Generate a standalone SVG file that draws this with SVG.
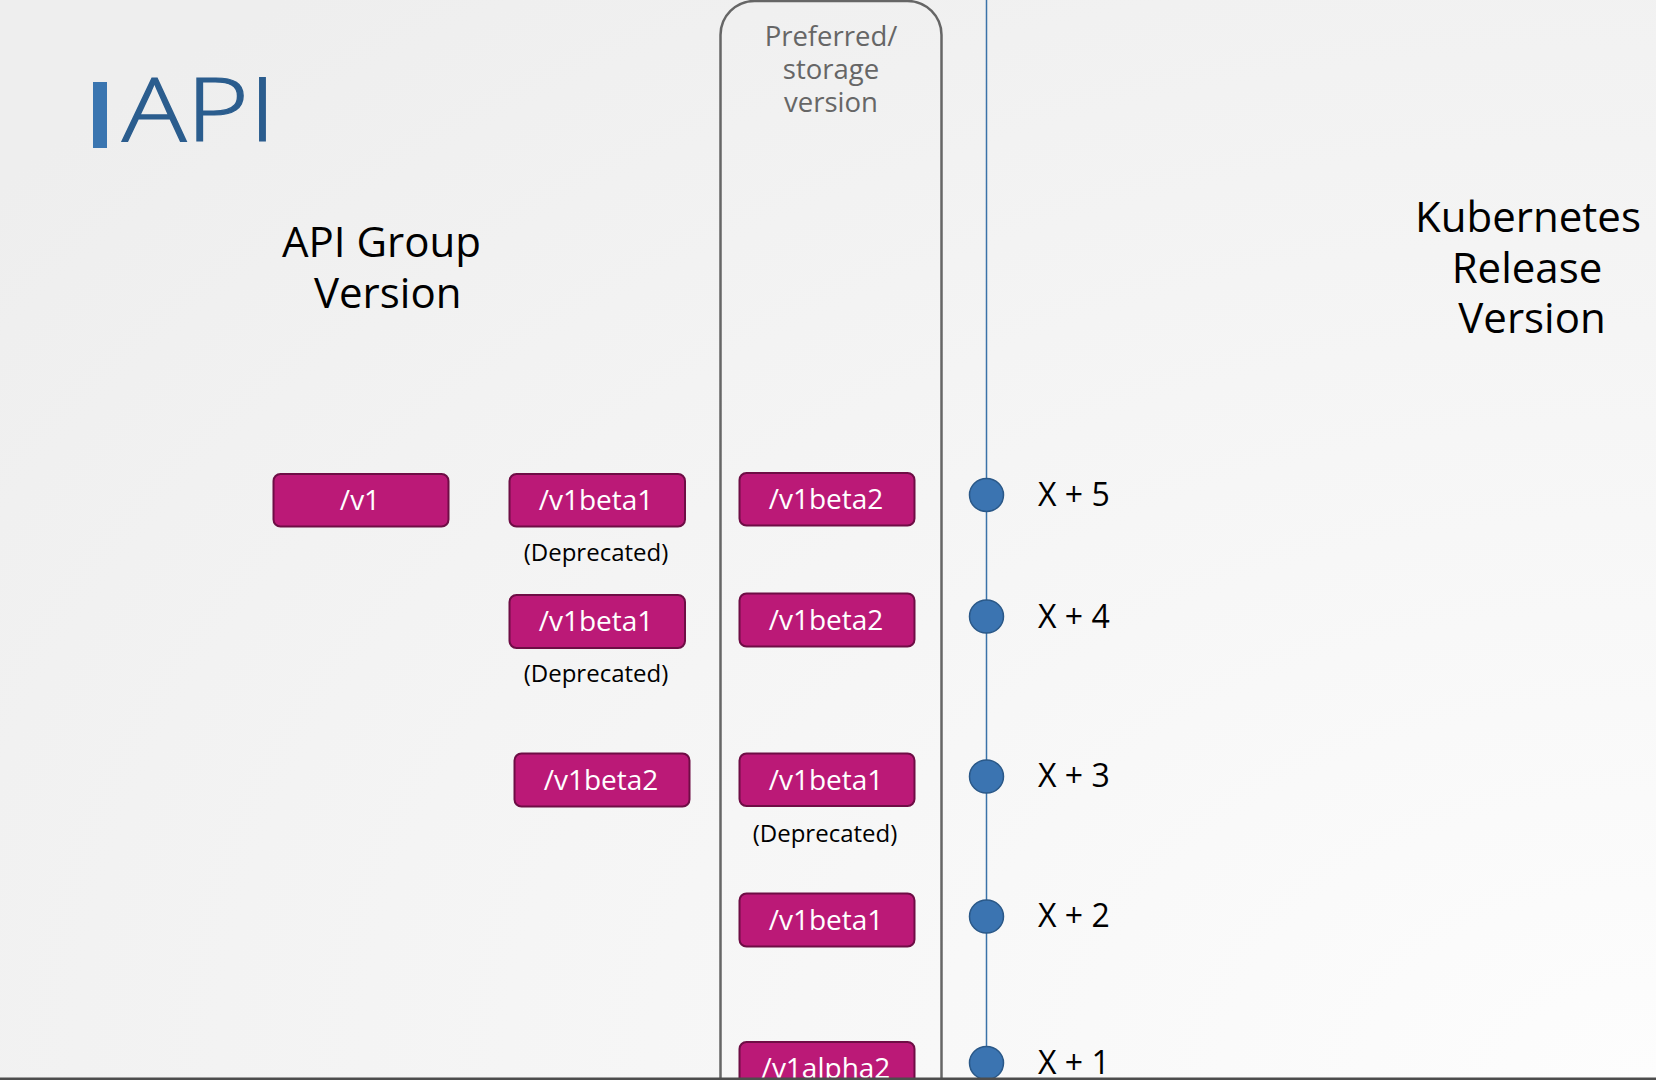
<svg xmlns="http://www.w3.org/2000/svg" width="1656" height="1080" viewBox="0 0 1656 1080">
<defs>
<radialGradient id="bg" cx="1" cy="1" r="1.3">
<stop offset="0" stop-color="#fdfdfd"/>
<stop offset="1" stop-color="#eeeeee"/>
</radialGradient>
<style>
.box{fill:#bb1977;stroke:#6e0d45;stroke-width:2}
.bt{font-family:"Open Sans","Liberation Sans",sans-serif;font-size:28px;fill:#ffffff;text-anchor:middle}
.dep{font-family:"Open Sans","Liberation Sans",sans-serif;font-size:24px;fill:#000;text-anchor:middle}
.head{font-family:"Open Sans","Liberation Sans",sans-serif;font-size:42px;fill:#000}
.lbl{font-family:"Open Sans","Liberation Sans",sans-serif;font-size:32px;fill:#000}
.dot{fill:#3b74b1;stroke:#2a5888;stroke-width:1.5}
</style>
</defs>
<rect x="0" y="0" width="1656" height="1080" fill="url(#bg)"/>

<g id="title">
<rect x="93" y="82" width="14" height="66" fill="#3a75b0"/>
<text x="122" y="141" font-family="'Open Sans','Liberation Sans',sans-serif" font-weight="300" font-size="88" fill="#2b5d8e" textLength="154" lengthAdjust="spacingAndGlyphs" stroke="#2b5d8e" stroke-width="1.2">API</text>
</g>

<g id="api-group-heading">
<text class="head" x="282" y="257">API Group</text>
<text class="head" x="314" y="308">Version</text>
</g>

<g id="k8s-heading">
<text class="head" x="1528" y="232" text-anchor="middle">Kubernetes</text>
<text class="head" x="1527" y="283" text-anchor="middle">Release</text>
<text class="head" x="1532" y="333" text-anchor="middle">Version</text>
</g>

<g id="preferred-column">
<rect x="720.5" y="1" width="221" height="1200" rx="34" ry="34" fill="none" stroke="#666666" stroke-width="2.5"/>
<g font-family="'Open Sans','Liberation Sans',sans-serif" font-size="27.5" fill="#666666" text-anchor="middle">
<text x="831" y="46">Preferred/</text>
<text x="831" y="79">storage</text>
<text x="831" y="112">version</text>
</g>
</g>

<g id="connectors">
<line x1="986.5" y1="0" x2="986.5" y2="1080" stroke="#3a72a8" stroke-width="1.5"/>
</g>

<g id="release-x5">
<ellipse class="dot" cx="986.5" cy="495" rx="17" ry="16.5"/>
<text class="lbl" x="1038" y="506">X + 5</text>
</g>
<g id="release-x4">
<ellipse class="dot" cx="986.5" cy="616.5" rx="17" ry="16.5"/>
<text class="lbl" x="1038" y="627.5">X + 4</text>
</g>
<g id="release-x3">
<ellipse class="dot" cx="986.5" cy="776.5" rx="17" ry="16.5"/>
<text class="lbl" x="1038" y="787">X + 3</text>
</g>
<g id="release-x2">
<ellipse class="dot" cx="986.5" cy="916.5" rx="17" ry="16.5"/>
<text class="lbl" x="1038" y="927">X + 2</text>
</g>
<g id="release-x1">
<ellipse class="dot" cx="986.5" cy="1063" rx="17" ry="16.5"/>
<text class="lbl" x="1038" y="1074">X + 1</text>
</g>

<g id="v1-x5">
<rect class="box" x="273.5" y="474" width="175" height="52.5" rx="7"/>
<text class="bt" x="360" y="510">/v1</text>
</g>
<g id="v1beta1-x5">
<rect class="box" x="509.5" y="474" width="175.5" height="52.5" rx="7"/>
<text class="bt" x="596" y="510">/v1beta1</text>
<text class="dep" x="596" y="561">(Deprecated)</text>
</g>
<g id="pref-v1beta2-x5">
<rect class="box" x="739.5" y="473" width="175" height="52.5" rx="7"/>
<text class="bt" x="826" y="509">/v1beta2</text>
</g>

<g id="v1beta1-x4">
<rect class="box" x="509.5" y="595" width="175.5" height="53" rx="7"/>
<text class="bt" x="596" y="631">/v1beta1</text>
<text class="dep" x="596" y="681.5">(Deprecated)</text>
</g>
<g id="pref-v1beta2-x4">
<rect class="box" x="739.5" y="593.5" width="175" height="53" rx="7"/>
<text class="bt" x="826" y="629.5">/v1beta2</text>
</g>

<g id="v1beta2-x3">
<rect class="box" x="514.5" y="753.5" width="175" height="53" rx="7"/>
<text class="bt" x="601" y="789.5">/v1beta2</text>
</g>
<g id="pref-v1beta1-x3">
<rect class="box" x="739.5" y="753.5" width="175" height="52.5" rx="7"/>
<text class="bt" x="826" y="789.5">/v1beta1</text>
<text class="dep" x="825" y="841.5">(Deprecated)</text>
</g>

<g id="pref-v1beta1-x2">
<rect class="box" x="739.5" y="893.5" width="175" height="53" rx="7"/>
<text class="bt" x="826" y="929.5">/v1beta1</text>
</g>

<g id="pref-v1alpha2-x1">
<rect class="box" x="739.5" y="1042" width="175" height="53" rx="7"/>
<text class="bt" x="826" y="1078">/v1alpha2</text>
</g>

<rect x="0" y="1077.5" width="1656" height="2.5" fill="#4d4d4d"/>
</svg>
